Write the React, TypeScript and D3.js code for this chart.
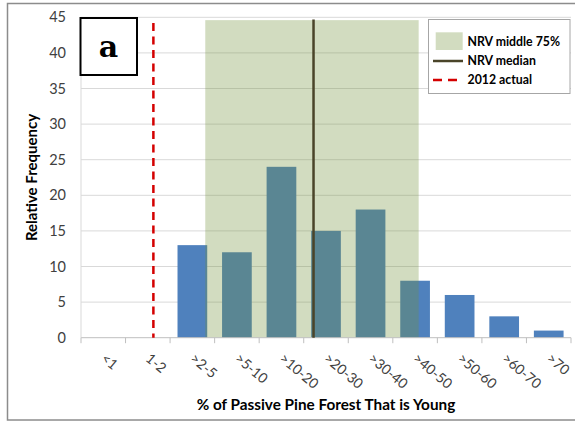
import React from "react";
import * as d3 from "d3";

const categories = ["<1", "1-2", ">2-5", ">5-10", ">10-20", ">20-30", ">30-40", ">40-50", ">50-60", ">60-70", ">70"];
const frequencies = [0, 0, 13, 12, 24, 15, 18, 8, 6, 3, 1];
const yTicks = [0, 5, 10, 15, 20, 25, 30, 35, 40, 45];
// overlays expressed in category-index units (0..11 along the x axis)
const nrvMiddleRange = [2.79, 7.58];
const nrvMiddleTop = 44.6;
const nrvMedian = 5.22;
const nrvMedianTop = 44.7;
const actual2012 = 1.625;
const actual2012Top = 44.2;
const legendLabels = ["NRV middle 75%", "NRV median", "2012 actual"];

const W = 575;
const H = 421;
const left = 81;
const right = 571;
const bottom = 337.7;
const top = 17.3;
const FONT = "Lato, 'Open Sans', sans-serif";

export default function App() {
  const x = d3
    .scaleBand<string>()
    .domain(categories)
    .range([left, right])
    .paddingInner(1 / 3)
    .paddingOuter(1 / 6);
  const xc = d3.scaleLinear().domain([0, categories.length]).range([left, right]);
  const y = d3.scaleLinear().domain([0, 45]).range([bottom, top]);
  const step = x.step();

  const blue = "#4f81bd";
  const green = "#72913a";
  const median = "#4a4429";
  const red = "#d40000";

  return (
    <svg
      width={W}
      height={H}
      style={{ position: "absolute", left: 0, top: 0 }}
      fontFamily={FONT}
    >
      <rect x={0} y={0} width={W} height={H} fill="#fff" />
      <rect x={7.5} y={3.5} width={W + 10} height={416.5} fill="none" stroke="#8c8c8c" strokeWidth={1.5} />
      {/* gridlines */}
      {yTicks.slice(1).map((t) => (
        <line key={t} x1={left} x2={right} y1={y(t)} y2={y(t)} stroke="#d9d9d9" strokeWidth={1} />
      ))}
      {/* bars */}
      {categories.map((c, i) =>
        frequencies[i] > 0 ? (
          <rect
            key={c}
            x={x(c)!}
            y={y(frequencies[i])}
            width={x.bandwidth()}
            height={y(0) - y(frequencies[i])}
            fill={blue}
          />
        ) : null
      )}
      {/* NRV middle 75% band */}
      <rect
        x={xc(nrvMiddleRange[0])}
        y={y(nrvMiddleTop)}
        width={xc(nrvMiddleRange[1]) - xc(nrvMiddleRange[0])}
        height={y(0) - y(nrvMiddleTop)}
        fill={green}
        fillOpacity={0.32}
      />
      {/* axis */}
      <line x1={left} x2={right} y1={bottom} y2={bottom} stroke="#bfbfbf" strokeWidth={1} />
      <line x1={left} x2={left} y1={top} y2={bottom} stroke="#d9d9d9" strokeWidth={1} />
      {d3.range(categories.length + 1).map((i) => (
        <line key={i} x1={left + i * step} x2={left + i * step} y1={bottom} y2={bottom + 5.5} stroke="#bfbfbf" />
      ))}
      {/* median line */}
      <line x1={xc(nrvMedian)} x2={xc(nrvMedian)} y1={y(nrvMedianTop)} y2={y(0)} stroke={median} strokeWidth={2.5} />
      {/* 2012 actual */}
      <line
        x1={xc(actual2012)}
        x2={xc(actual2012)}
        y1={y(actual2012Top)}
        y2={y(0)}
        stroke={red}
        strokeWidth={2.5}
        strokeDasharray="8,5.5"
      />
      {/* y tick labels */}
      {yTicks.map((t) => (
        <text key={t} x={66} y={y(t)} dy="0.35em" textAnchor="end" fontSize={14.5} fill="#404040">
          {t}
        </text>
      ))}
      {/* x tick labels */}
      {categories.map((c) => {
        const cx = x(c)! + x.bandwidth() / 2;
        return (
          <text
            key={c}
            transform={`translate(${cx - 3},${360}) rotate(40)`}
            fontSize={14}
            fill="#404040"
          >
            {c}
          </text>
        );
      })}
      {/* axis titles */}
      <text
        transform={`translate(${37},${(top + bottom) / 2}) rotate(-90)`}
        textAnchor="middle"
        fontSize={15}
        fontWeight="bold"
        fill="#000"
      >
        Relative Frequency
      </text>
      <text x={(left + right) / 2} y={410} textAnchor="middle" fontSize={15.3} fontWeight="bold" fill="#000">
        % of Passive Pine Forest That is Young
      </text>
      {/* legend */}
      <rect x={428.5} y={19.5} width={141.5} height={74} fill="#fff" stroke="#a6a6a6" strokeWidth={1} />
      <rect x={435.7} y={32.3} width={27} height={17.7} fill={green} fillOpacity={0.32} />
      <line x1={433} x2={463} y1={61} y2={61} stroke={median} strokeWidth={2.5} />
      <line x1={433} x2={463} y1={80} y2={80} stroke={red} strokeWidth={2.5} strokeDasharray="9,6" />
      {legendLabels.map((l, i) => (
        <text key={l} x={467.5} y={41.5 + i * 19.3} dy="0.35em" fontSize={12.3} fontWeight="bold" fill="#000">
          {l}
        </text>
      ))}
      {/* panel label */}
      <rect x={80.5} y={18} width={56.5} height={57} fill="#fff" stroke="#000" strokeWidth={2} />
      <text
        x={108.5}
        y={46.5}
        dy="0.35em"
        textAnchor="middle"
        fontSize={30}
        fontWeight="bold"
        fontFamily="'DejaVu Serif', 'Liberation Serif', serif"
        fill="#000"
      >
        a
      </text>
    </svg>
  );
}
